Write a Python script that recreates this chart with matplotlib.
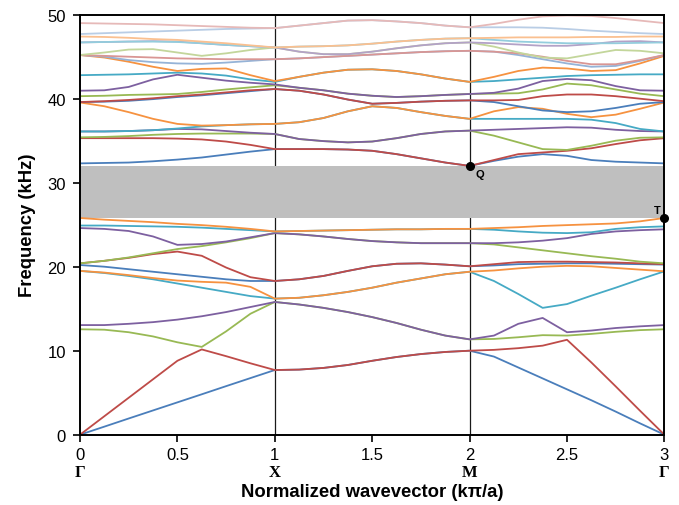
import matplotlib
matplotlib.use("Agg")
import matplotlib.pyplot as plt

# ---------------- data ----------------
k = [0.0, 0.125, 0.25, 0.375, 0.5, 0.625, 0.75, 0.875, 1.0,
     1.125, 1.25, 1.375, 1.5, 1.625, 1.75, 1.875, 2.0,
     2.125, 2.25, 2.375, 2.5, 2.625, 2.75, 2.875, 3.0]

x_ticks = [0, 0.5, 1, 1.5, 2, 2.5, 3]
x_tick_labels = ["0", "0.5", "1", "1.5", "2", "2.5", "3"]
sym_points = [0, 1, 2, 3]
sym_labels = ["Γ", "X", "M", "Γ"]
y_ticks = [0, 10, 20, 30, 40, 50]

gap_low = 25.8
gap_high = 32.0
point_Q = (2.0, 32.0)
point_T = (3.0, 25.8)

band_01 = [0, 0.96, 1.93, 2.89, 3.85, 4.81, 5.78, 6.74, 7.7, 7.75, 7.95, 8.3, 8.8, 9.25, 9.6, 9.85, 10.0, 9.3, 8.0, 6.7, 5.4, 4.1, 2.75, 1.35, 0]
band_02 = [0, 2.2, 4.4, 6.6, 8.8, 10.15, 9.35, 8.5, 7.7, 7.75, 7.95, 8.3, 8.8, 9.25, 9.6, 9.85, 10.0, 10.1, 10.3, 10.6, 11.3, 8.6, 5.75, 2.85, 0]
band_03 = [12.55, 12.5, 12.2, 11.7, 11.0, 10.45, 12.3, 14.4, 15.8, 15.5, 15.1, 14.6, 14.0, 13.3, 12.5, 11.8, 11.35, 11.4, 11.6, 11.85, 11.8, 12.0, 12.25, 12.45, 12.55]
band_04 = [13.05, 13.05, 13.2, 13.4, 13.7, 14.1, 14.6, 15.2, 15.8, 15.5, 15.1, 14.6, 14.0, 13.3, 12.5, 11.8, 11.35, 11.8, 13.2, 13.9, 12.2, 12.4, 12.7, 12.9, 13.05]
band_05 = [19.5, 19.25, 18.9, 18.5, 18.0, 17.5, 17.0, 16.5, 16.2, 16.3, 16.6, 17.0, 17.5, 18.1, 18.6, 19.1, 19.4, 18.3, 16.75, 15.1, 15.55, 16.55, 17.5, 18.5, 19.45]
band_06 = [19.5, 19.3, 19.0, 18.65, 18.35, 18.2, 18.1, 17.6, 16.2, 16.3, 16.6, 17.0, 17.5, 18.1, 18.6, 19.1, 19.4, 19.55, 19.8, 20.0, 20.1, 20.05, 19.85, 19.65, 19.45]
band_07 = [20.2, 20.0, 19.7, 19.4, 19.1, 18.8, 18.5, 18.3, 18.3, 18.5, 18.9, 19.5, 20.05, 20.35, 20.4, 20.25, 20.05, 20.15, 20.3, 20.35, 20.4, 20.4, 20.35, 20.3, 20.25]
band_08 = [20.4, 20.7, 21.05, 21.5, 21.8, 21.3, 19.9, 18.75, 18.3, 18.5, 18.9, 19.5, 20.05, 20.35, 20.4, 20.25, 20.05, 20.3, 20.55, 20.6, 20.6, 20.55, 20.5, 20.4, 20.3]
band_09 = [20.4, 20.7, 21.1, 21.6, 22.1, 22.45, 22.9, 23.4, 24.0, 23.85, 23.6, 23.3, 23.05, 22.9, 22.8, 22.8, 22.8, 22.65, 22.3, 21.95, 21.6, 21.25, 20.95, 20.6, 20.4]
band_10 = [24.6, 24.5, 24.25, 23.6, 22.6, 22.7, 23.0, 23.5, 24.0, 23.85, 23.6, 23.3, 23.05, 22.9, 22.8, 22.8, 22.8, 22.8, 22.9, 23.1, 23.4, 23.9, 24.2, 24.35, 24.45]
band_11 = [24.9, 24.9, 24.85, 24.8, 24.75, 24.65, 24.5, 24.35, 24.2, 24.25, 24.3, 24.35, 24.4, 24.45, 24.45, 24.5, 24.5, 24.4, 24.2, 24.05, 24.0, 24.1, 24.5, 24.7, 24.8]
band_12 = [25.8, 25.6, 25.45, 25.3, 25.1, 24.95, 24.75, 24.5, 24.2, 24.25, 24.3, 24.35, 24.4, 24.45, 24.45, 24.5, 24.5, 24.6, 24.7, 24.85, 24.95, 25.05, 25.15, 25.4, 25.8]
band_13 = [32.3, 32.35, 32.4, 32.55, 32.75, 33.0, 33.35, 33.7, 34.0, 34.0, 34.0, 33.95, 33.8, 33.4, 32.9, 32.4, 32.0, 32.6, 33.1, 33.4, 33.2, 32.7, 32.5, 32.4, 32.3]
band_14 = [35.3, 35.3, 35.3, 35.3, 35.25, 35.15, 34.9, 34.5, 34.0, 34.0, 34.0, 33.95, 33.8, 33.4, 32.9, 32.4, 32.0, 32.7, 33.4, 33.6, 33.8, 34.1, 34.6, 35.05, 35.3]
band_15 = [35.4, 35.45, 35.55, 35.7, 35.8, 35.85, 35.85, 35.85, 35.8, 35.2, 34.95, 34.8, 34.9, 35.3, 35.8, 36.1, 36.2, 35.6, 34.8, 34.0, 33.9, 34.4, 35.0, 35.35, 35.4]
band_16 = [36.1, 36.1, 36.15, 36.25, 36.4, 36.35, 36.15, 35.95, 35.8, 35.2, 34.95, 34.8, 34.9, 35.3, 35.8, 36.1, 36.2, 36.3, 36.4, 36.5, 36.6, 36.55, 36.3, 36.15, 36.1]
band_17 = [36.1, 36.1, 36.15, 36.25, 36.45, 36.7, 36.85, 36.95, 37.0, 37.2, 37.7, 38.5, 39.1, 38.9, 38.4, 37.95, 37.6, 37.6, 37.6, 37.6, 37.6, 37.5, 37.1, 36.4, 36.1]
band_18 = [39.55, 39.1, 38.4, 37.6, 37.0, 36.8, 36.85, 36.95, 37.0, 37.2, 37.7, 38.5, 39.1, 38.9, 38.4, 37.95, 37.6, 38.5, 39.0, 38.8, 38.2, 37.8, 38.1, 38.8, 39.55]
band_19 = [39.6, 39.65, 39.75, 39.95, 40.2, 40.4, 40.65, 40.9, 41.15, 40.95, 40.5, 39.9, 39.4, 39.5, 39.65, 39.75, 39.8, 39.6, 39.1, 38.6, 38.4, 38.5, 38.9, 39.4, 39.6]
band_20 = [39.6, 39.7, 39.85, 40.05, 40.3, 40.5, 40.75, 41.0, 41.15, 40.95, 40.5, 39.9, 39.4, 39.5, 39.65, 39.75, 39.8, 39.8, 39.85, 40.3, 40.5, 40.5, 40.3, 40.0, 39.7]
band_21 = [40.3, 40.35, 40.45, 40.5, 40.56, 40.8, 41.1, 41.35, 41.6, 41.3, 41.0, 40.6, 40.35, 40.2, 40.3, 40.45, 40.56, 40.6, 40.65, 41.1, 41.8, 41.6, 41.1, 40.6, 40.3]
band_22 = [40.95, 41.0, 41.4, 42.3, 42.85, 42.5, 42.15, 41.9, 41.7, 41.3, 41.0, 40.6, 40.35, 40.2, 40.3, 40.45, 40.56, 40.7, 41.2, 42.1, 42.35, 42.2, 41.5, 41.0, 40.95]
band_23 = [42.8, 42.85, 42.9, 43.0, 43.1, 43.0, 42.75, 42.3, 42.0, 42.6, 43.1, 43.45, 43.5, 43.3, 42.9, 42.4, 42.0, 42.1, 42.3, 42.5, 42.7, 42.8, 42.85, 42.9, 42.9]
band_24 = [45.2, 44.9, 44.4, 43.8, 43.3, 43.55, 43.6, 42.8, 42.1, 42.6, 43.1, 43.45, 43.5, 43.3, 42.9, 42.4, 42.0, 42.6, 43.3, 43.7, 43.6, 43.3, 43.4, 44.2, 45.1]
band_25 = [45.2, 45.0, 44.6, 44.35, 44.2, 44.15, 44.3, 44.5, 44.7, 44.8, 44.95, 45.1, 45.25, 45.4, 45.55, 45.65, 45.7, 45.6, 45.2, 44.7, 44.2, 43.8, 43.9, 44.5, 45.2]
band_26 = [45.2, 45.1, 45.0, 44.9, 44.8, 44.75, 44.7, 44.7, 44.7, 44.8, 44.95, 45.1, 45.25, 45.4, 45.55, 45.65, 45.7, 45.6, 45.4, 45.0, 44.5, 44.1, 44.1, 44.6, 45.2]
band_27 = [45.2, 45.5, 45.85, 45.9, 45.5, 45.1, 45.4, 45.8, 46.1, 45.6, 45.3, 45.3, 45.6, 46.0, 46.35, 46.6, 46.7, 46.2, 45.5, 44.9, 44.8, 45.3, 45.8, 45.7, 45.4]
band_28 = [46.7, 46.75, 46.8, 46.85, 46.8, 46.6, 46.4, 46.25, 46.1, 45.6, 45.3, 45.3, 45.6, 46.0, 46.35, 46.6, 46.7, 46.6, 46.45, 46.3, 46.3, 46.5, 46.8, 46.85, 46.7]
band_29 = [46.7, 46.75, 46.8, 46.8, 46.75, 46.6, 46.4, 46.25, 46.1, 46.2, 46.25, 46.35, 46.55, 46.8, 47.0, 47.15, 47.2, 47.0, 46.8, 46.7, 46.6, 46.6, 46.6, 46.65, 46.7]
band_30 = [47.4, 47.35, 47.25, 47.1, 47.0, 46.8, 46.6, 46.35, 46.1, 46.2, 46.25, 46.35, 46.55, 46.8, 47.0, 47.15, 47.2, 47.25, 47.3, 47.3, 47.3, 47.35, 47.35, 47.4, 47.4]
band_31 = [47.7, 47.8, 47.9, 48.0, 48.1, 48.2, 48.3, 48.35, 48.4, 48.7, 49.0, 49.3, 49.35, 49.2, 49.0, 48.7, 48.5, 48.5, 48.5, 48.45, 48.3, 48.1, 47.95, 47.8, 47.7]
band_32 = [49.0, 48.95, 48.9, 48.85, 48.75, 48.65, 48.55, 48.45, 48.4, 48.7, 49.0, 49.3, 49.35, 49.2, 49.0, 48.7, 48.5, 48.9, 49.4, 49.8, 49.9, 49.85, 49.6, 49.3, 49.0]

bands = [band_01, band_02, band_03, band_04, band_05, band_06, band_07, band_08,
         band_09, band_10, band_11, band_12, band_13, band_14, band_15, band_16,
         band_17, band_18, band_19, band_20, band_21, band_22, band_23, band_24,
         band_25, band_26, band_27, band_28, band_29, band_30, band_31, band_32]

base_colors = ["#4A7EBB", "#BE4B48", "#98B954", "#7D60A0", "#46AAC5", "#F69240"]
light_colors = ["#95B3D7", "#D99694", "#C3D69B", "#B3A2C7", "#93CDDD", "#FAC090",
                "#B9CDE5", "#E6B9B8"]
band_colors = base_colors * 4 + light_colors

# ---------------- plot ----------------
plt.rcParams["font.family"] = ["Liberation Sans", "DejaVu Sans"]

fig = plt.figure(figsize=(6.79, 5.06), dpi=100)
ax = fig.add_axes([80 / 679, 1 - 435.7 / 506, 584.4 / 679, 420 / 506])

for xv in [1, 2]:
    ax.axvline(xv, color="#1a1a1a", lw=0.9, zorder=1)
ax.axhspan(gap_low, gap_high, color="#BFBFBF", lw=0, zorder=1.5)

for vals, col in zip(bands, band_colors):
    ax.plot(k, vals, color=col, lw=1.3, zorder=2, solid_joinstyle="round")

ax.plot([point_Q[0]], [point_Q[1]], "o", color="black", ms=5.5, zorder=5, clip_on=False)
ax.plot([point_T[0]], [point_T[1]], "o", color="black", ms=5.5, zorder=5, clip_on=False)
ax.text(point_Q[0] + 0.03, point_Q[1] - 0.35, "Q", fontsize=8, fontweight="bold",
        ha="left", va="top", zorder=6)
ax.text(point_T[0] - 0.02, point_T[1] + 0.3, "T", fontsize=8, fontweight="bold",
        ha="right", va="bottom", zorder=6)

ax.set_xlim(0, 3)
ax.set_ylim(0, 50)
ax.set_xticks(x_ticks)
ax.set_xticklabels(x_tick_labels, fontsize=12)
ax.set_yticks(y_ticks)
ax.set_yticklabels([str(v) for v in y_ticks], fontsize=12)
ax.tick_params(axis="both", direction="out", length=5, width=1.2, colors="black")
ax.tick_params(axis="x", pad=4)
ax.tick_params(axis="y", pad=5)
for s in ax.spines.values():
    s.set_linewidth(1.4)
    s.set_color("black")

trans = ax.get_xaxis_transform()
for xp, lab in zip(sym_points, sym_labels):
    ax.text(xp, -0.088, lab, transform=trans, ha="center", va="center",
            fontsize=12, fontweight="bold", family=["Liberation Serif", "DejaVu Serif"])

ax.set_xlabel("Normalized wavevector (kπ/a)", fontsize=13.3, fontweight="bold", labelpad=15)
ax.set_ylabel("Frequency (kHz)", fontsize=13.3, fontweight="bold", labelpad=8)

fig.savefig("out.png", dpi=100)
